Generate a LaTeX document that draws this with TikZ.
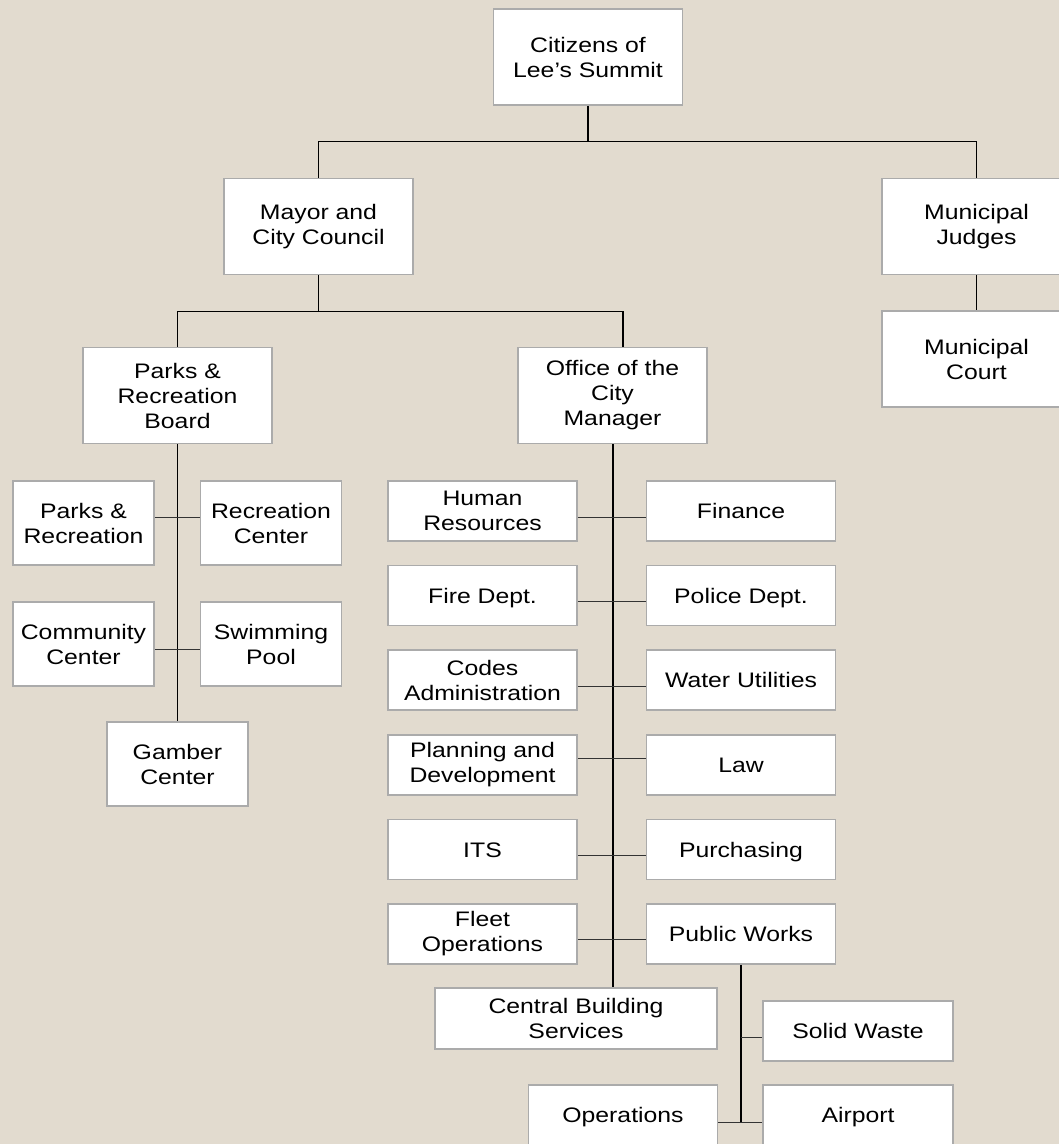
\documentclass[tikz,border=0pt]{standalone}
\usepackage{fontspec}
\setmainfont[FakeStretch=1.18]{Liberation Sans}
\usetikzlibrary{calc}
\definecolor{bg}{HTML}{E2DBCF}
\definecolor{bord}{HTML}{ABABAB}
\definecolor{lnk}{HTML}{333333}
\begin{document}
\begin{tikzpicture}[x=1pt,y=-1pt,
  box/.style={draw=bord, line width=1.5pt, fill=white, align=center,
    font=\fontsize{21}{25}\selectfont, inner sep=0pt,
    minimum width=189pt, minimum height=60pt},
  one/.style={text height=15pt, text depth=0pt},
  tall/.style={minimum height=96pt},
  small/.style={minimum width=141pt, minimum height=84pt},
  conn/.style={line width=1.3pt, black},
  branch/.style={line width=1pt, lnk},
  trunk/.style={line width=2pt, black}]
\fill[bg] (0,0) rectangle (1059,1144);
\useasboundingbox (0,0) rectangle (1059,1144);
\clip (0,0) rectangle (1059,1144);

% top levels
\node[box,tall] (cit) at (588,57) {Citizens of\\Lee’s Summit};
\node[box,tall] (mayor) at (318.5,226.5) {Mayor and\\City Council};
\node[box,tall] (judges) at (976.5,226.5) {Municipal\\Judges};
\node[box,tall] (court) at (976.5,359) {Municipal\\Court};
\node[box,tall] (board) at (177.5,395.5) {Parks \&\\Recreation\\Board};
\node[box,tall] (office) at (612.5,395.5) {Office of the\\City\\Manager};

% parks board children
\node[box,small] (parks) at (83.5,523) {Parks \&\\Recreation};
\node[box,small] (reccenter) at (271,523) {Recreation\\Center};
\node[box,small] (community) at (83.5,644) {Community\\Center};
\node[box,small] (pool) at (271,644) {Swimming\\Pool};
\node[box,small] (gamber) at (177.5,764) {Gamber\\Center};

% city manager children
\node[box] (hr) at (482.5,511) {Human\\Resources};
\node[box,one] (finance) at (741,511) {Finance};
\node[box,one] (fire) at (482.5,595.5) {Fire Dept.};
\node[box,one] (police) at (741,595.5) {Police Dept.};
\node[box] (codes) at (482.5,680) {Codes\\Administration};
\node[box,one] (water) at (741,680) {Water Utilities};
\node[box] (planning) at (482.5,765) {Planning and\\Development};
\node[box,one] (law) at (741,765) {Law};
\node[box,one] (its) at (482.5,849.5) {ITS};
\node[box,one] (purch) at (741,849.5) {Purchasing};
\node[box] (fleet) at (482.5,934) {Fleet\\Operations};
\node[box,one] (pw) at (741,934) {Public Works};
\node[box,minimum width=282pt,minimum height=61pt] (central) at (576,1018.5) {Central Building\\Services};

% public works children
\node[box,one,minimum width=190pt] (sw) at (858,1031) {Solid Waste};
\node[box,one] (ops) at (623,1115) {Operations};
\node[box,one,minimum width=190pt] (airport) at (858,1115) {Airport};

% connectors: top
\draw[conn] (cit.south) -- ++(0,36) coordinate (c1);
\draw[conn] (c1) -| (mayor.north);
\draw[conn] (c1) -| (judges.north);
\draw[trunk,line width=1.6pt] (judges.south) -- (court.north);
\draw[conn] (mayor.south) -- ++(0,36) coordinate (c2);
\draw[conn] (c2) -| (board.north);
\draw[conn] (c2) -| ([xshift=10.5pt]office.north);

% parks board
\draw[conn] (board.south) -- (gamber.north);
\draw[branch] ([yshift=6pt]parks.east) -- ([yshift=6pt]reccenter.west);
\draw[branch] ([yshift=-5pt]community.east) -- ([yshift=-5pt]pool.west);

% city manager
\draw[trunk] (office.south) -- (office.south |- central.north);
\draw[branch] ([yshift=-6pt]hr.east) -- ([yshift=-6pt]finance.west);
\draw[branch] ([yshift=-5.5pt]fire.east) -- ([yshift=-5.5pt]police.west);
\draw[branch] ([yshift=-6pt]codes.east) -- ([yshift=-6pt]water.west);
\draw[branch] ([yshift=7pt]planning.east) -- ([yshift=7pt]law.west);
\draw[branch] ([yshift=-5.5pt]its.east) -- ([yshift=-5.5pt]purch.west);
\draw[branch] ([yshift=-5pt]fleet.east) -- ([yshift=-5pt]pw.west);

% public works
\draw[trunk] (pw.south) -- ($(pw.south |- airport.west)+(0,7)$);
\draw[branch] ($(pw.south |- sw.west)+(0,6)$) -- ([yshift=-6pt]sw.west);
\draw[branch] ([yshift=-7pt]ops.east) -- ([yshift=-7pt]airport.west);
\end{tikzpicture}
\end{document}
